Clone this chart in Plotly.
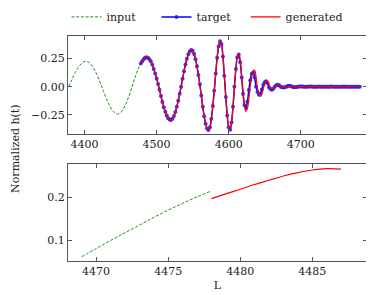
import numpy as np
import plotly.graph_objects as go
from plotly.subplots import make_subplots

# ---------------- data ----------------
# top panel: input segment, sampled every 3 units starting at 4378
input_start, input_step = 4378, 3
input_vals = [0.000, 0.044, 0.086, 0.125, 0.159, 0.187, 0.208, 0.221, 0.225,
              0.220, 0.205, 0.180, 0.147, 0.108, 0.063, 0.016,
              -0.034, -0.085, -0.131, -0.171, -0.204, -0.227, -0.240,
              -0.241, -0.230, -0.206, -0.171, -0.126, -0.075, -0.019,
              0.041, 0.100, 0.153, 0.198]

# target / generated, sampled every 2 units starting at 4478
out_start, out_step = 4478, 2
target_vals = [
    0.205, 0.226, 0.244, 0.256, 0.262,                      # 4478-4486
    0.258, 0.244, 0.223, 0.194, 0.158, 0.117, 0.072, 0.024,  # 4488-4502
    -0.028, -0.083, -0.135, -0.182, -0.223, -0.255, -0.279, -0.292,  # 4504-4518
    -0.295, -0.284, -0.261, -0.225, -0.178, -0.124, -0.063, 0.000,   # 4520-4534
    0.070, 0.136, 0.197, 0.248, 0.287, 0.313, 0.325,         # 4536-4548
    0.319, 0.291, 0.244, 0.181, 0.104, 0.021,                # 4550-4560
    -0.078, -0.177, -0.263, -0.329, -0.371, -0.385,          # 4562-4572
    -0.359, -0.284, -0.172, -0.036,                          # 4574-4580
    0.118, 0.257, 0.357, 0.403,                              # 4582-4588
    0.379, 0.268, 0.097,                                     # 4590-4594
    -0.092, -0.255, -0.360, -0.382, -0.317, -0.179, 0.000,   # 4596-4608
    0.156, 0.262, 0.285, 0.218, 0.081,                       # 4610-4618
    -0.065, -0.165, -0.188, -0.134, -0.030,                  # 4620-4628
    0.058, 0.114, 0.126, 0.082, 0.000,                       # 4630-4638
    -0.046, -0.071, -0.062, -0.025,                          # 4640-4646
    0.015, 0.039, 0.048, 0.030,                              # 4648-4654
    -0.005, -0.021, -0.027, -0.019, 0.000,                   # 4656-4664
    0.013, 0.018, 0.013, 0.000,                              # 4666-4672
    -0.006, -0.008, -0.006, 0.000,                           # 4674-4680
    0.006, 0.008, 0.006, 0.000,                              # 4682-4688
    -0.003, -0.004, -0.003, 0.000, 0.002,                    # 4690-4698
    0.001, 0.001, 0.000, -0.001, -0.001, 0.000, 0.001, 0.001,  # 4700-4714
    0.000, 0.000, -0.001, 0.000, 0.000, 0.001, 0.000, 0.000,   # 4716-4730
    0.000, -0.001, 0.000, 0.000, 0.000, 0.001, 0.000, 0.000,   # 4732-4746
    0.000, 0.000, -0.001, 0.000, 0.000, 0.000, 0.001, 0.000,   # 4748-4762
    0.000, 0.000, 0.000, -0.001, 0.000, 0.000, 0.000, 0.000,   # 4764-4778
    0.000, 0.000,                                              # 4780-4782
]
generated_vals = [
    0.197, 0.219, 0.240, 0.258, 0.267,
    0.262, 0.246, 0.224, 0.195, 0.159, 0.118, 0.073, 0.025,
    -0.027, -0.082, -0.134, -0.181, -0.222, -0.255, -0.279, -0.292,
    -0.296, -0.285, -0.262, -0.226, -0.179, -0.125, -0.064, 0.000,
    0.069, 0.135, 0.196, 0.248, 0.287, 0.314, 0.326,
    0.320, 0.292, 0.245, 0.182, 0.105, 0.022,
    -0.077, -0.176, -0.262, -0.328, -0.370, -0.384,
    -0.358, -0.284, -0.173, -0.038,
    0.116, 0.255, 0.356, 0.402,
    0.380, 0.270, 0.100,
    -0.090, -0.252, -0.358, -0.380, -0.318, -0.182, -0.005,
    0.157, 0.266, 0.293, 0.233, 0.103,
    -0.048, -0.165, -0.219, -0.195, -0.108,
    0.009, 0.091, 0.143, 0.146, 0.082,
    -0.012, -0.065, -0.086, -0.066,
    -0.015, 0.027, 0.051, 0.049,
    0.018, -0.010, -0.020, -0.017, -0.005,
    0.008, 0.017, 0.016, 0.004,
    -0.004, -0.006, -0.004, 0.000,
    0.003, 0.004, 0.002, 0.000,
    -0.001, -0.002, -0.001, 0.000, 0.001,
    0.001, 0.000, 0.000, 0.000, -0.001, 0.000, 0.000, 0.001,
    0.000, 0.000, 0.000, 0.000, 0.000, 0.000, 0.000, 0.000,
    0.000, 0.000, 0.000, 0.000, 0.000, 0.000, 0.000, 0.000,
    0.000, 0.000, 0.000, 0.000, 0.000, 0.000, 0.000, 0.000,
    0.000, 0.000, 0.000, 0.000, 0.000, 0.000, 0.000, 0.000,
    0.000, 0.000,
]

# bottom panel (zoom around the junction), sampled every 1 unit
zoom_input_start = 4469
zoom_input_vals = [0.061, 0.080, 0.099, 0.117, 0.135, 0.153, 0.170, 0.186, 0.201, 0.215]
zoom_gen_start = 4478
zoom_gen_vals = [0.197, 0.208, 0.219, 0.230, 0.240, 0.250, 0.258, 0.264, 0.267, 0.266]

top_xticks = [4400, 4500, 4600, 4700]
top_yticks = [-0.25, 0.0, 0.25]
bot_xticks = [4470, 4475, 4480, 4485]
bot_yticks = [0.1, 0.2]

# ---------------- figure ----------------
x_in = input_start + input_step * np.arange(len(input_vals))
x_out = out_start + out_step * np.arange(len(target_vals))
x_gen = out_start + out_step * np.arange(len(generated_vals))
x_zin = zoom_input_start + np.arange(len(zoom_input_vals))
x_zgen = zoom_gen_start + np.arange(len(zoom_gen_vals))

GREEN = "#1f8f1f"
FONT = "DejaVu Serif"

fig = make_subplots(rows=2, cols=1, vertical_spacing=0.0)

fig.add_trace(go.Scatter(x=x_in, y=input_vals, mode="lines", name="input", legend="legend",
                         line=dict(color=GREEN, width=1, dash="3px,1.7px", shape="spline")),
              row=1, col=1)
fig.add_trace(go.Scatter(x=x_out, y=target_vals, mode="lines+markers", name="target",
                         legend="legend",
                         line=dict(color="#0000ff", width=1.5, shape="spline"),
                         marker=dict(color="#1a1aff", size=4, opacity=0.85)),
              row=1, col=1)
fig.add_trace(go.Scatter(x=x_gen, y=generated_vals, mode="lines", name="generated",
                         legend="legend2",
                         line=dict(color="#ff0000", width=1.2, shape="spline")),
              row=1, col=1)

fig.add_trace(go.Scatter(x=x_zin, y=zoom_input_vals, mode="lines", showlegend=False,
                         line=dict(color=GREEN, width=1, dash="3px,1.7px", shape="spline")),
              row=2, col=1)
fig.add_trace(go.Scatter(x=x_zgen, y=zoom_gen_vals, mode="lines", showlegend=False,
                         line=dict(color="#ff0000", width=1.2, shape="spline")),
              row=2, col=1)

axis_style = dict(showline=True, linecolor="#555555", linewidth=1, mirror="ticks",
                  ticks="inside", ticklen=4, tickwidth=1, tickcolor="#555555",
                  showgrid=False, zeroline=False,
                  tickfont=dict(family=FONT, size=11, color="#222222"))

fig.update_xaxes(**axis_style)
fig.update_yaxes(**axis_style)

legend_common = dict(orientation="h", yanchor="middle", y=1.085, xanchor="left",
                     font=dict(family=FONT, size=11, color="#222222"),
                     bgcolor="rgba(0,0,0,0)")

fig.update_layout(
    width=374, height=295,
    margin=dict(l=60, r=15, t=28, b=42, autoexpand=False),
    paper_bgcolor="white", plot_bgcolor="white",
    font=dict(family=FONT, size=11, color="#222222"),
    xaxis=dict(domain=[0, 1], range=[4377, 4792], tickvals=top_xticks, anchor="y"),
    yaxis=dict(domain=[0.5644, 1.0], range=[-0.42, 0.45], tickvals=top_yticks,
               tickformat=".2f", anchor="x"),
    xaxis2=dict(domain=[0, 1], range=[4468.05, 4488.8], tickvals=bot_xticks, anchor="y2",
                title=dict(text="L", standoff=4, font=dict(family=FONT, size=11))),
    yaxis2=dict(domain=[0.0, 0.4311], range=[0.051, 0.278], tickvals=bot_yticks,
                tickformat=".1f", anchor="x2"),
    legend=dict(x=-0.005, entrywidth=45, **legend_common),
    legend2=dict(x=0.594, **legend_common),
    annotations=[dict(text="Normalized h(t)", textangle=-90, xref="paper", yref="paper",
                      x=-0.176, xanchor="center", y=0.5, yanchor="middle", showarrow=False,
                      font=dict(family=FONT, size=11, color="#222222"))],
    showlegend=True,
)

fig.write_html("out.html")
